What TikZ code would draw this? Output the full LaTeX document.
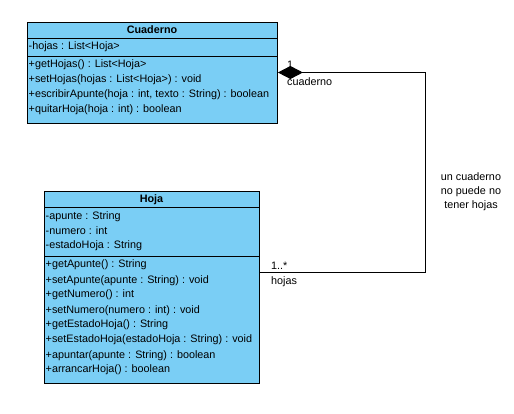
\documentclass[tikz,border=0pt]{standalone}
\usepackage{fontspec}
\setmainfont{Liberation Sans}
\usetikzlibrary{arrows.meta}
\definecolor{cls}{RGB}{122,206,245}
\begin{document}
\begin{tikzpicture}[x=1pt,y=-1pt,
  font=\fontsize{10.8}{14}\selectfont,
  classbox/.style={draw=black, fill=cls, line width=0.9pt, anchor=north west, inner sep=0pt},
  divider/.style={draw=black, line width=0.9pt},
  member/.style={anchor=west, inner sep=0pt},
  title/.style={anchor=center, inner sep=0pt, font=\fontsize{10.8}{14}\selectfont\bfseries},
  lbl/.style={anchor=west, inner sep=0pt},
  assoc/.style={draw=black, line width=0.9pt}
]
\useasboundingbox (0,0) rectangle (514,414);

% Cuaderno class
\node[classbox, minimum width=250pt, minimum height=101pt] (cuad) at (27,22) {};
\draw[divider] (27,38) -- (277,38);
\draw[divider] (27,56) -- (277,56);
\node[title] (cuadT) at (152,30) {Cuaderno};
\node[member] (ca1) at (28.5,46.5) {-hojas : List<Hoja>};
\node[member] (cm1) at (28.5,65) {+getHojas() : List<Hoja>};
\node[member] (cm2) at (28.5,79.5) {+setHojas(hojas : List<Hoja>) : void};
\node[member] (cm3) at (28.5,95) {+escribirApunte(hoja : int, texto : String) : boolean};
\node[member] (cm4) at (28.5,110) {+quitarHoja(hoja : int) : boolean};

% Hoja class
\node[classbox, minimum width=215pt, minimum height=192pt] (hoja) at (44,191) {};
\draw[divider] (44,207) -- (259,207);
\draw[divider] (44,256) -- (259,256);
\node[title] (hojaT) at (151.5,199.5) {Hoja};
\node[member] (ha1) at (45.5,216.5) {-apunte : String};
\node[member] (ha2) at (45.5,231) {-numero : int};
\node[member] (ha3) at (45.5,246) {-estadoHoja : String};
\node[member] (hm1) at (45.5,265) {+getApunte() : String};
\node[member] (hm2) at (45.5,280.5) {+setApunte(apunte : String) : void};
\node[member] (hm3) at (45.5,295) {+getNumero() : int};
\node[member] (hm4) at (45.5,310.5) {+setNumero(numero : int) : void};
\node[member] (hm5) at (45.5,325) {+getEstadoHoja() : String};
\node[member] (hm6) at (45.5,340) {+setEstadoHoja(estadoHoja : String) : void};
\node[member] (hm7) at (45.5,355.5) {+apuntar(apunte : String) : boolean};
\node[member] (hm8) at (45.5,370) {+arrancarHoja() : boolean};

% Composition
\coordinate (cEnd) at ([yshift=-50.5pt]cuad.north east);
\coordinate (hEnd) at ([yshift=-81pt]hoja.north east);
\coordinate (k1) at (425,272);
\coordinate (k2) at (425,72.5);
\draw[assoc, -{Diamond[length=25pt,width=13pt,fill=black]}] (hEnd) -- (k1) -- (k2) -- (cEnd);

\node[lbl] (m1) at (287,65) {1};
\node[lbl] (r1) at (287,82) {cuaderno};
\node[lbl] (m2) at (271,265.5) {1..*};
\node[lbl] (r2) at (271,281.5) {hojas};

\node[align=center, inner sep=0pt] (note) at (471,191.5) {un cuaderno\\no puede no\\tener hojas};
\end{tikzpicture}
\end{document}
